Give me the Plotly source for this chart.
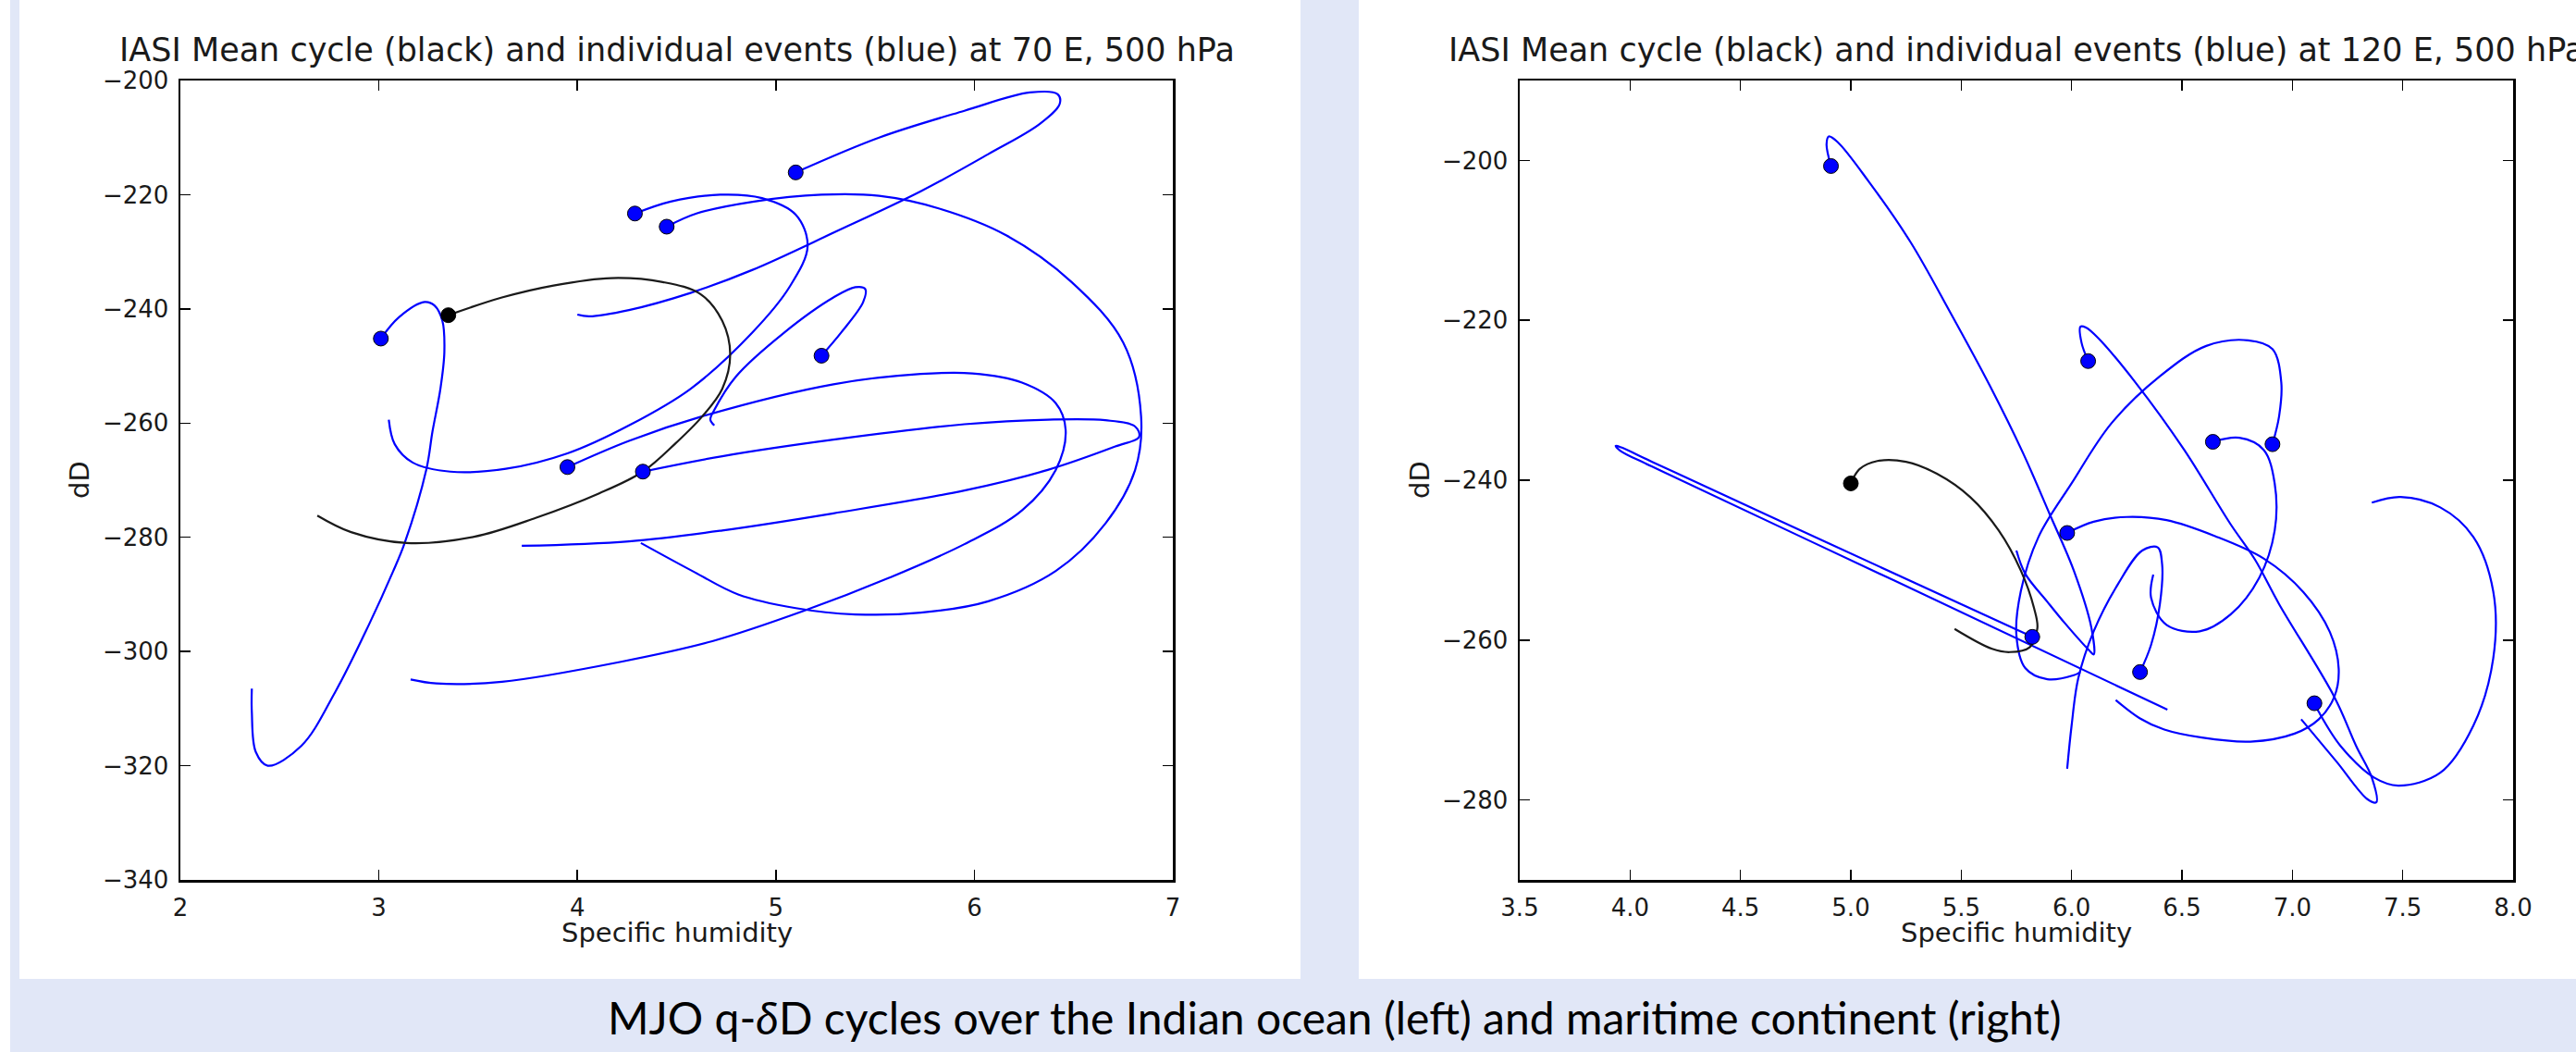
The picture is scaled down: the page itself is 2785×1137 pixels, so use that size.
import plotly.graph_objects as go

W, H = 2785, 1137

# ---------------- data ----------------
# Left panel: 70 E, 500 hPa
left_mean_q  = [3.35, 3.62, 3.88, 4.17, 4.43, 4.62, 4.73, 4.77, 4.73, 4.63, 4.49, 4.33, 4.11, 3.79, 3.48, 3.14, 2.86, 2.69]
left_mean_dD = [-241.1, -238.0, -235.9, -234.6, -235.3, -237.4, -242.1, -248.0, -254.0, -258.8, -263.7, -268.5, -272.3, -276.6, -279.9, -281.0, -279.1, -276.2]

left_ev1_q  = [5.10, 5.52, 5.95, 6.28, 6.42, 6.43, 6.33, 6.07, 5.73, 5.30, 4.88, 4.57, 4.26, 4.06, 4.00]
left_ev1_dD = [-216.1, -210.0, -205.3, -202.1, -202.4, -204.1, -207.6, -212.9, -219.4, -226.5, -233.2, -237.2, -240.2, -241.3, -241.0]

left_ev2_q  = [4.29, 4.47, 4.72, 4.93, 5.10, 5.16, 5.07, 4.88, 4.57, 4.26, 3.95, 3.64, 3.36, 3.17, 3.08, 3.05]
left_ev2_dD = [-223.3, -221.2, -220.0, -220.6, -223.5, -229.0, -236.1, -244.2, -254.0, -260.4, -265.3, -268.0, -268.5, -266.9, -263.7, -259.4]

left_ev3_q  = [4.45, 4.60, 4.89, 5.23, 5.52, 5.82, 6.16, 6.49, 6.75, 6.84, 6.81, 6.66, 6.41, 6.07, 5.73, 5.40, 5.10, 4.81, 4.59, 4.32]
left_ev3_dD = [-225.6, -223.3, -221.2, -220.0, -220.2, -222.4, -227.1, -235.3, -245.9, -258.8, -268.2, -277.6, -285.9, -291.2, -293.2, -293.5, -292.4, -290.0, -286.1, -281.0]

left_ev4_q  = [3.01, 3.10, 3.23, 3.28, 3.32, 3.33, 3.31, 3.27, 3.24, 3.13, 3.07, 2.95, 2.78, 2.61, 2.44, 2.38, 2.36, 2.36]
left_ev4_dD = [-245.2, -241.5, -238.8, -239.4, -242.1, -247.5, -254.0, -261.5, -268.0, -281.0, -286.1, -295.3, -307.1, -316.5, -320.0, -317.6, -310.6, -306.5]

left_ev5_q  = [5.23, 5.33, 5.44, 5.45, 5.40, 5.29, 5.04, 4.80, 4.69, 4.67, 4.69]
left_ev5_dD = [-248.2, -244.1, -238.8, -236.5, -236.2, -238.0, -244.2, -251.8, -257.7, -259.4, -260.4]

left_ev6_q  = [3.95, 4.26, 4.63, 5.29, 5.73, 5.99, 6.24, 6.41, 6.46, 6.41, 6.24, 5.95, 5.57, 5.14, 4.68, 4.22, 3.62, 3.29, 3.16]
left_ev6_dD = [-267.7, -263.1, -258.8, -253.2, -251.4, -251.3, -252.9, -256.5, -261.2, -268.2, -275.3, -281.2, -287.1, -292.9, -298.2, -301.8, -305.3, -305.6, -304.9]

left_ev7_q  = [4.33, 4.73, 5.29, 5.95, 6.37, 6.66, 6.81, 6.83, 6.71, 6.37, 5.95, 5.29, 4.73, 4.26, 3.72]
left_ev7_dD = [-268.5, -265.8, -262.9, -260.2, -259.4, -259.5, -260.6, -262.4, -264.1, -268.2, -271.8, -275.8, -278.8, -280.7, -281.5]

# Right panel: 120 E, 500 hPa
right_mean_q  = [5.00, 5.04, 5.12, 5.25, 5.39, 5.54, 5.67, 5.77, 5.83, 5.845, 5.81, 5.72, 5.64, 5.47]
right_mean_dD = [-240.4, -238.6, -237.6, -237.7, -239.2, -242.1, -246.3, -251.3, -256.0, -258.5, -260.9, -261.5, -261.1, -258.6]

right_ev1_q  = [4.91, 4.89, 4.90, 4.94, 5.08, 5.27, 5.45, 5.63, 5.78, 5.90, 6.01, 6.09, 6.10, 6.08, 5.97, 5.89, 5.79, 5.75]
right_ev1_dD = [-200.7, -198.0, -197.0, -197.7, -202.6, -210.2, -219.0, -228.2, -236.6, -244.2, -251.3, -258.5, -261.8, -261.3, -257.9, -255.2, -251.7, -248.8]

right_ev2_q  = [6.075, 6.045, 6.04, 6.065, 6.12, 6.29, 6.51, 6.72, 6.83, 6.94, 7.19, 7.29, 7.36, 7.38, 7.34, 7.20, 7.04]
right_ev2_dD = [-225.1, -222.8, -220.8, -220.9, -222.2, -227.8, -236.2, -245.5, -249.9, -255.5, -267.1, -273.3, -277.2, -280.3, -279.9, -275.2, -269.9]

right_ev3_q  = [6.64, 6.76, 6.87, 6.92, 6.92, 6.85, 6.72, 6.58, 6.43, 6.36, 6.37]
right_ev3_dD = [-235.2, -234.7, -236.2, -240.4, -246.3, -252.2, -256.8, -258.9, -258.1, -254.7, -251.8]

right_ev4_q  = [6.91, 6.94, 6.95, 6.91, 6.80, 6.61, 6.40, 6.18, 6.00, 5.85, 5.77, 5.75, 5.79, 5.89, 6.01, 6.04]
right_ev4_dD = [-235.5, -232.0, -227.8, -223.6, -222.5, -223.2, -227.0, -232.9, -240.4, -247.1, -253.9, -259.4, -263.5, -264.9, -264.4, -264.0]

right_ev5_q  = [5.98, 6.10, 6.25, 6.43, 6.65, 6.87, 7.05, 7.17, 7.21, 7.19, 7.12, 7.01, 6.81, 6.59, 6.42, 6.31, 6.20]
right_ev5_dD = [-246.6, -245.2, -244.6, -245.0, -247.0, -249.8, -254.0, -259.0, -263.6, -267.1, -269.9, -271.7, -272.7, -272.2, -271.2, -269.8, -267.5]

right_ev6_q  = [6.31, 6.36, 6.40, 6.41, 6.39, 6.32, 6.21, 6.10, 6.03, 6.00, 5.98]
right_ev6_dD = [-264.0, -260.6, -255.5, -250.5, -248.4, -248.8, -253.0, -258.9, -264.8, -270.7, -276.1]

right_ev7_q  = [5.822, 4.90, 4.10, 3.96, 3.935, 3.955, 4.10, 5.20, 6.434]
right_ev7_dD = [-259.6, -247.9, -237.7, -235.9, -235.7, -236.3, -238.3, -252.6, -268.7]

right_ev8_q  = [7.10, 7.12, 7.22, 7.37, 7.48, 7.67, 7.82, 7.91, 7.91, 7.82, 7.67, 7.49, 7.36]
right_ev8_dD = [-267.9, -269.0, -273.3, -277.2, -278.2, -276.6, -270.7, -262.3, -253.9, -247.1, -243.4, -242.1, -242.8]

left_xticks = [2, 3, 4, 5, 6, 7]
left_yticks = [-340, -320, -300, -280, -260, -240, -220, -200]
right_xticks = [3.5, 4.0, 4.5, 5.0, 5.5, 6.0, 6.5, 7.0, 7.5, 8.0]
right_yticks = [-280, -260, -240, -220, -200]

left_title = "IASI Mean cycle (black) and individual events (blue) at 70 E, 500 hPa"
right_title = "IASI Mean cycle (black) and individual events (blue) at 120 E, 500 hPa"
x_label = "Specific humidity"
y_label = "dD"
caption = "MJO q-<i>δ</i>D cycles over the Indian ocean (left) and maritime continent (right)"

left_events = [(left_ev1_q, left_ev1_dD), (left_ev2_q, left_ev2_dD), (left_ev3_q, left_ev3_dD),
               (left_ev4_q, left_ev4_dD), (left_ev5_q, left_ev5_dD), (left_ev6_q, left_ev6_dD),
               (left_ev7_q, left_ev7_dD)]
right_events = [(right_ev1_q, right_ev1_dD), (right_ev2_q, right_ev2_dD), (right_ev3_q, right_ev3_dD),
                (right_ev4_q, right_ev4_dD), (right_ev5_q, right_ev5_dD), (right_ev6_q, right_ev6_dD),
                (right_ev7_q, right_ev7_dD), (right_ev8_q, right_ev8_dD)]

# ---------------- figure ----------------
BLUE = "#0000ff"
BLACK = "#1a1a1a"
LAV = "#e1e7f7"
FONT = "DejaVu Sans"

fig = go.Figure()


def add_panel(events, mean_q, mean_dD, xa, ya):
    for q, d in events:
        fig.add_trace(go.Scatter(x=q, y=d, xaxis=xa, yaxis=ya, mode="lines",
                                 line=dict(color=BLUE, width=2.2, shape="spline", smoothing=1.0),
                                 hoverinfo="skip", showlegend=False))
    fig.add_trace(go.Scatter(x=mean_q, y=mean_dD, xaxis=xa, yaxis=ya, mode="lines",
                             line=dict(color=BLACK, width=2.2, shape="spline", smoothing=1.0),
                             hoverinfo="skip", showlegend=False))
    fig.add_trace(go.Scatter(x=[q[0] for q, d in events], y=[d[0] for q, d in events],
                             xaxis=xa, yaxis=ya, mode="markers",
                             marker=dict(size=16, color=BLUE, line=dict(color="#000000", width=1)),
                             hoverinfo="skip", showlegend=False))
    fig.add_trace(go.Scatter(x=[mean_q[0]], y=[mean_dD[0]], xaxis=xa, yaxis=ya, mode="markers",
                             marker=dict(size=16, color="#000000", line=dict(color="#000000", width=1)),
                             hoverinfo="skip", showlegend=False))


add_panel(left_events, left_mean_q, left_mean_dD, "x", "y")
add_panel(right_events, right_mean_q, right_mean_dD, "x2", "y2")

ydom = [1 - 951 / H, 1 - 87 / H]
axis_common = dict(showgrid=False, zeroline=False, showline=True, linecolor="#000000", linewidth=2.5,
                   mirror="allticks", ticks="inside", ticklen=11, tickwidth=1.5, tickcolor="#000000",
                   automargin=False,
                   tickfont=dict(family=FONT, size=26, color="#1a1a1a"), ticklabelstandoff=5)

fig.update_layout(
    template="none",
    width=W, height=H, autosize=False,
    margin=dict(l=0, r=0, t=0, b=0, pad=0, autoexpand=False),
    paper_bgcolor=LAV, plot_bgcolor="rgba(0,0,0,0)",
    xaxis=dict(domain=[195 / W, 1268 / W], range=[2, 7], tickvals=left_xticks, anchor="y", **axis_common),
    yaxis=dict(domain=ydom, range=[-340, -200], tickvals=left_yticks, anchor="x", **axis_common),
    xaxis2=dict(domain=[1643 / W, 2717 / W], range=[3.5, 8], tickvals=right_xticks, tickformat=".1f",
                anchor="y2", **axis_common),
    yaxis2=dict(domain=ydom, range=[-290, -190], tickvals=right_yticks, anchor="x2", **axis_common),
    shapes=[
        dict(type="rect", xref="paper", yref="paper", x0=0, x1=11 / W, y0=0, y1=1,
             fillcolor="#ffffff", line=dict(width=0), layer="below"),
        dict(type="rect", xref="paper", yref="paper", x0=21 / W, x1=1406 / W, y0=1 - 1058 / H, y1=1,
             fillcolor="#ffffff", line=dict(width=0), layer="below"),
        dict(type="rect", xref="paper", yref="paper", x0=1469 / W, x1=1, y0=1 - 1058 / H, y1=1,
             fillcolor="#ffffff", line=dict(width=0), layer="below"),
    ],
)

ann = []
for cx, title in [((195 + 1268) / 2, left_title), ((1643 + 2717) / 2, right_title)]:
    ann.append(dict(text=title, x=cx / W, y=1 - 54 / H, xref="paper", yref="paper",
                    xanchor="center", yanchor="middle", showarrow=False,
                    font=dict(family=FONT, size=35, color="#1a1a1a")))
    ann.append(dict(text=x_label, x=cx / W, y=1 - 1008 / H, xref="paper", yref="paper",
                    xanchor="center", yanchor="middle", showarrow=False,
                    font=dict(family=FONT, size=29, color="#1a1a1a")))
for lx in [86, 1535]:
    ann.append(dict(text=y_label, x=lx / W, y=1 - 519 / H, xref="paper", yref="paper",
                    xanchor="center", yanchor="middle", textangle=-90, showarrow=False,
                    font=dict(family=FONT, size=29, color="#1a1a1a")))
ann.append(dict(text=caption, x=1443 / W, y=1 - 1099 / H, xref="paper", yref="paper",
                xanchor="center", yanchor="middle", showarrow=False,
                font=dict(family="Lato", size=48, color="#000000")))
fig.update_layout(annotations=ann)

# remove the browser's default 8px page margin so the figure sits at the window origin
fig.write_html("out.html",
               config={"displayModeBar": False, "staticPlot": True},
               post_script="document.body.style.margin='0px';document.body.style.padding='0px';"
                           "document.body.style.overflow='hidden';")
